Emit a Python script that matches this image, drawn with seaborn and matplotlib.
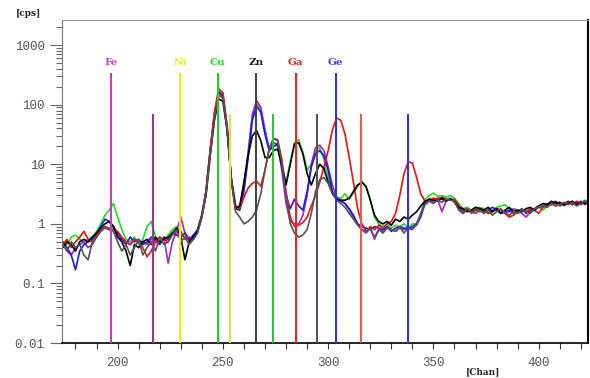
import numpy as np
import pandas as pd
import matplotlib
matplotlib.use('Agg')
import matplotlib.pyplot as plt
import seaborn as sns
from matplotlib.ticker import FixedLocator, FixedFormatter, LogLocator, NullFormatter, MultipleLocator

# 能谱数据：通道 174~426，步长 2（每行 10 个点，行首为起始通道）
chan = np.arange(174, 427, 2)

green = [
    0.5, 0.45, 0.6, 0.65, 0.55, 0.5, 0.55, 0.6, 0.75, 1.0,      # 174
    1.4, 1.7, 2.2, 1.3, 0.8, 0.55, 0.5, 0.6, 0.45, 0.55,         # 194
    0.9, 1.1, 0.6, 0.5, 0.55, 0.65, 0.8, 0.9, 0.7, 0.6,          # 214
    0.55, 0.6, 0.8, 1.3, 3.4, 17, 70, 170, 150, 42,              # 234
    5.5, 2.0, 1.9, 4.2, 15, 62, 105, 82, 35, 18,                 # 254
    20, 21, 9, 5, 11, 23, 26, 16, 8, 10,                         # 274
    17, 19, 12, 6, 3.5, 2.8, 2.7, 3.2, 2.6, 3.3,                 # 294
    4.3, 5.2, 4.3, 2.6, 1.3, 1.0, 0.9, 1.0, 0.85, 0.95,          # 314
    0.9, 1.0, 0.85, 1.0, 1.0, 1.5, 2.6, 3.0, 3.3, 2.9,           # 334
    3.0, 2.8, 3.0, 2.7, 2.2, 1.8, 1.9, 1.7, 1.8, 1.9,            # 354
    1.8, 1.6, 1.7, 1.9, 2.0, 2.1, 1.8, 1.6, 1.5, 1.6,            # 374
    1.7, 1.6, 1.8, 1.9, 1.7, 2.0, 2.1, 2.3, 2.2, 2.0,            # 394
    2.2, 2.4, 2.1, 2.3, 2.5, 2.2, 2.3,                           # 414
]
red = [
    0.45, 0.55, 0.4, 0.5, 0.6, 0.75, 0.55, 0.5, 0.65, 0.8,
    0.9, 0.85, 0.8, 0.75, 0.6, 0.5, 0.45, 0.55, 0.5, 0.4,
    0.28, 0.35, 0.5, 0.6, 0.55, 0.5, 0.7, 0.8, 0.75, 0.55,
    0.6, 0.55, 0.75, 1.4, 3.5, 18, 75, 185, 160, 45,
    6, 2.0, 1.8, 2.8, 4.0, 4.8, 5.2, 4.3, 8, 18,
    27, 26, 12, 3.5, 1.3, 0.9, 0.95, 1.05, 1.3, 2.0,
    3.0, 5.0, 9, 17, 38, 60, 55, 32, 13, 5.0,
    1.8, 1.0, 0.75, 0.9, 0.8, 0.95, 0.85, 1.0, 1.1, 1.5,
    3.0, 7, 11, 10.5, 6, 3.2, 2.4, 2.5, 2.7, 2.6,
    2.8, 2.6, 2.5, 2.6, 2.0, 1.7, 1.8, 1.6, 1.7, 1.8,
    1.7, 1.5, 1.6, 1.8, 1.7, 1.5, 1.3, 1.4, 1.6, 1.7,
    1.6, 1.8, 1.7, 1.5, 1.9, 2.0, 2.2, 2.0, 2.3, 2.1,
    2.3, 2.1, 2.4, 2.2, 2.3, 2.4, 2.2,
]
blue = [
    0.5, 0.4, 0.3, 0.17, 0.35, 0.45, 0.5, 0.55, 0.7, 0.9,
    1.2, 1.1, 0.9, 0.7, 0.55, 0.45, 0.6, 0.5, 0.55, 0.45,
    0.5, 0.6, 0.55, 0.45, 0.6, 0.55, 0.7, 0.65, 0.6, 0.7,
    0.55, 0.65, 0.8, 1.4, 3.6, 17, 68, 160, 140, 40,
    5.5, 1.8, 1.7, 3.5, 13, 55, 95, 75, 32, 17,
    20, 22, 9, 3.0, 1.8, 2.6, 2.0, 1.7, 3.5, 9,
    15, 17, 14, 8, 3.5, 2.6, 2.4, 2.2, 1.8, 1.4,
    1.0, 0.9, 0.85, 0.8, 0.9, 0.85, 0.8, 0.9, 0.75, 0.85,
    0.9, 0.85, 0.8, 0.9, 1.0, 1.4, 2.3, 2.6, 2.5, 2.7,
    2.6, 2.4, 2.7, 2.3, 1.8, 1.5, 1.7, 1.6, 1.7, 1.8,
    1.6, 1.7, 1.9, 1.7, 1.5, 1.6, 1.7, 1.5, 1.6, 1.8,
    1.5, 1.7, 1.8, 2.0, 1.9, 2.1, 2.2, 2.4, 2.1, 2.2,
    2.4, 2.2, 2.3, 2.1, 2.4, 2.3, 2.2,
]
magenta = [
    0.45, 0.35, 0.3, 0.4, 0.45, 0.5, 0.4, 0.45, 0.6, 0.75,
    0.85, 0.8, 0.95, 0.6, 0.55, 0.5, 0.45, 0.55, 0.5, 0.5,
    0.45, 0.55, 0.5, 0.45, 0.6, 0.22, 0.5, 0.75, 1.3, 0.7,
    0.5, 0.6, 0.8, 1.4, 3.5, 17, 70, 165, 145, 42,
    5.5, 2.0, 1.8, 4.5, 16, 70, 118, 90, 38, 18,
    23, 22, 8, 2.2, 1.1, 1.0, 1.0, 1.4, 3.0, 10,
    19, 21, 17, 9, 4.5, 2.8, 2.5, 2.2, 1.7, 1.3,
    1.0, 0.8, 0.7, 0.85, 0.55, 0.8, 0.75, 0.9, 0.8, 0.75,
    0.85, 0.8, 0.9, 0.85, 0.95, 1.3, 2.2, 2.5, 2.3, 2.6,
    1.6, 2.4, 2.6, 2.5, 2.0, 1.6, 1.8, 1.5, 1.7, 1.6,
    1.7, 1.5, 1.6, 1.8, 1.7, 1.5, 1.6, 1.8, 1.7, 1.5,
    1.3, 1.6, 1.7, 1.9, 2.0, 2.2, 2.1, 2.3, 2.0, 2.2,
    2.3, 2.1, 2.2, 2.4, 2.1, 2.3, 2.2,
]
black = [
    0.4, 0.5, 0.45, 0.35, 0.5, 0.55, 0.5, 0.6, 0.7, 0.85,
    1.0, 1.1, 0.9, 0.6, 0.5, 0.35, 0.2, 0.45, 0.4, 0.5,
    0.55, 0.45, 0.6, 0.5, 0.55, 0.6, 0.7, 0.85, 0.6, 0.25,
    0.5, 0.6, 0.75, 1.3, 3.0, 14, 55, 125, 115, 38,
    5.5, 1.8, 2.0, 5, 14, 30, 37, 25, 13, 13,
    17, 18, 10, 4.5, 10, 22, 23, 15, 7, 4.5,
    7, 10, 8.5, 5, 3.2, 2.6, 2.5, 2.5, 2.7, 3.5,
    4.5, 5, 4.2, 2.5, 1.4, 1.1, 1.0, 1.1, 0.95, 1.2,
    1.1, 1.3, 1.2, 1.4, 1.6, 2.0, 2.4, 2.6, 2.5, 2.4,
    2.7, 2.5, 2.6, 2.4, 1.9, 1.8, 1.6, 1.7, 1.9, 1.8,
    1.7, 1.9, 1.6, 1.8, 1.5, 1.7, 1.9, 1.6, 1.7, 1.6,
    1.8, 1.9, 1.7, 2.0, 2.2, 2.1, 2.4, 2.2, 2.3, 2.1,
    2.2, 2.4, 2.1, 2.3, 2.2, 2.5, 2.3,
]
gray = [
    0.45, 0.35, 0.5, 0.4, 0.45, 0.3, 0.25, 0.5, 0.6, 0.75,
    0.9, 0.8, 0.75, 0.5, 0.35, 0.45, 0.3, 0.4, 0.55, 0.3,
    0.4, 0.5, 0.35, 0.6, 0.45, 0.5, 0.65, 0.8, 0.5, 0.6,
    0.45, 0.55, 0.7, 1.3, 3.2, 15, 60, 145, 130, 40,
    5.5, 1.6, 1.3, 1.0, 1.1, 1.3, 1.7, 3.2, 8, 18,
    27, 25, 11, 3.0, 1.0, 0.7, 0.6, 0.65, 0.8, 1.5,
    3.5, 5.5, 6, 4.8, 3.3, 2.5, 2.2, 1.9, 1.5, 1.2,
    0.95, 0.8, 0.75, 0.85, 0.6, 0.8, 0.7, 0.85, 0.8, 0.75,
    0.9, 0.7, 0.85, 0.8, 1.0, 1.5, 2.1, 2.4, 2.2, 2.5,
    2.3, 2.6, 2.5, 2.4, 1.7, 1.5, 1.8, 1.6, 1.5, 1.7,
    1.5, 1.7, 1.4, 1.6, 1.8, 1.5, 1.4, 1.6, 1.5, 1.7,
    1.6, 1.5, 1.8, 1.9, 2.1, 1.9, 2.2, 2.0, 2.1, 2.3,
    2.1, 2.3, 2.0, 2.2, 2.4, 2.1, 2.3,
]

series_names = ['green', 'magenta', 'blue', 'red', 'black', 'gray']
series_colors = ['#22dd22', '#aa22cc', '#1a1aee', '#ee1111', '#000000', '#555555']

# 元素谱线位置（通道）
line_chan = [196.9, 216.8, 229.6, 247.6, 253.3, 265.6, 273.7, 284.6, 294.7, 303.6, 315.6, 337.7]
line_top = [340, 70, 340, 340, 70, 340, 70, 340, 70, 340, 70, 70]
line_color = ['#bb44bb', '#993399', '#eeee00', '#22cc22', '#dddd55', '#444444',
              '#22cc22', '#ee2222', '#555555', '#3333dd', '#ee5555', '#3333ee']

elem_names = ['Fe', 'Ni', 'Cu', 'Zn', 'Ga', 'Ge']
elem_chan = [196.9, 229.6, 247.6, 265.6, 284.6, 303.6]
elem_color = ['#cc44cc', '#eeee22', '#22dd22', '#222222', '#ee2222', '#4444ee']

y_ticks = [0.01, 0.1, 1, 10, 100, 1000]
y_labels = ['0.01', '0.1', '1', '10', '100', '1000']

data = {'green': green, 'red': red, 'blue': blue, 'magenta': magenta, 'black': black, 'gray': gray}
df = pd.DataFrame({'chan': np.tile(chan, len(series_names)),
                   'cps': np.concatenate([data[n] for n in series_names]),
                   'sample': np.repeat(series_names, len(chan))})

sns.set_style('white')
fig = plt.figure(figsize=(5.9, 3.78), dpi=100)
ax = fig.add_axes([62 / 590, 1 - 343 / 378, 526 / 590, 323 / 378])

sns.lineplot(data=df, x='chan', y='cps', hue='sample', hue_order=series_names,
             palette=dict(zip(series_names, series_colors)), estimator=None, sort=False,
             legend=False, linewidth=1.2, ax=ax, zorder=2)

ax.vlines(line_chan, 0.01, line_top, colors=line_color, linewidth=1.5, zorder=3)
for name, ch, c in zip(elem_names, elem_chan, elem_color):
    ax.text(ch, 520, name, color=c, ha='center', va='center', fontsize=7.5,
            family='DejaVu Serif', fontweight='bold')

ax.set_yscale('log')
ax.set_ylim(0.01, 2650)
ax.set_xlim(173.6, 423.4)
ax.yaxis.set_major_locator(FixedLocator(y_ticks))
ax.yaxis.set_major_formatter(FixedFormatter(y_labels))
ax.yaxis.set_minor_locator(LogLocator(base=10, subs=np.arange(2, 10)))
ax.yaxis.set_minor_formatter(NullFormatter())
ax.xaxis.set_major_locator(MultipleLocator(50))
ax.xaxis.set_minor_locator(MultipleLocator(10))
ax.set_xlabel('')
ax.set_ylabel('')
ax.tick_params(axis='y', which='major', length=9, width=0.8, color='#666666', left=True,
               labelsize=9, labelcolor='#555555')
ax.tick_params(axis='y', which='minor', length=4, width=0.8, color='#666666', left=True)
ax.tick_params(axis='x', which='both', length=4, width=0.8, color='#333333', bottom=True,
               labelsize=9, labelcolor='#555555', pad=6)
for lab in ax.get_xticklabels() + ax.get_yticklabels():
    lab.set_family('Liberation Mono')

ax.spines['left'].set_color('#777777')
ax.spines['top'].set_color('#999999')
ax.spines['right'].set_color('#000000')
ax.spines['bottom'].set_color('#000000')
ax.spines['right'].set_linewidth(1.5)
ax.spines['bottom'].set_linewidth(1.2)

fig.text(16 / 590, 1 - 14 / 378, '[cps]', fontsize=6.5, family='DejaVu Serif',
         fontweight='bold', va='center')
fig.text(466 / 590, 1 - 372 / 378, '[Chan]', fontsize=6.5, family='DejaVu Serif',
         fontweight='bold', va='center')

fig.savefig('out.png', dpi=100)
